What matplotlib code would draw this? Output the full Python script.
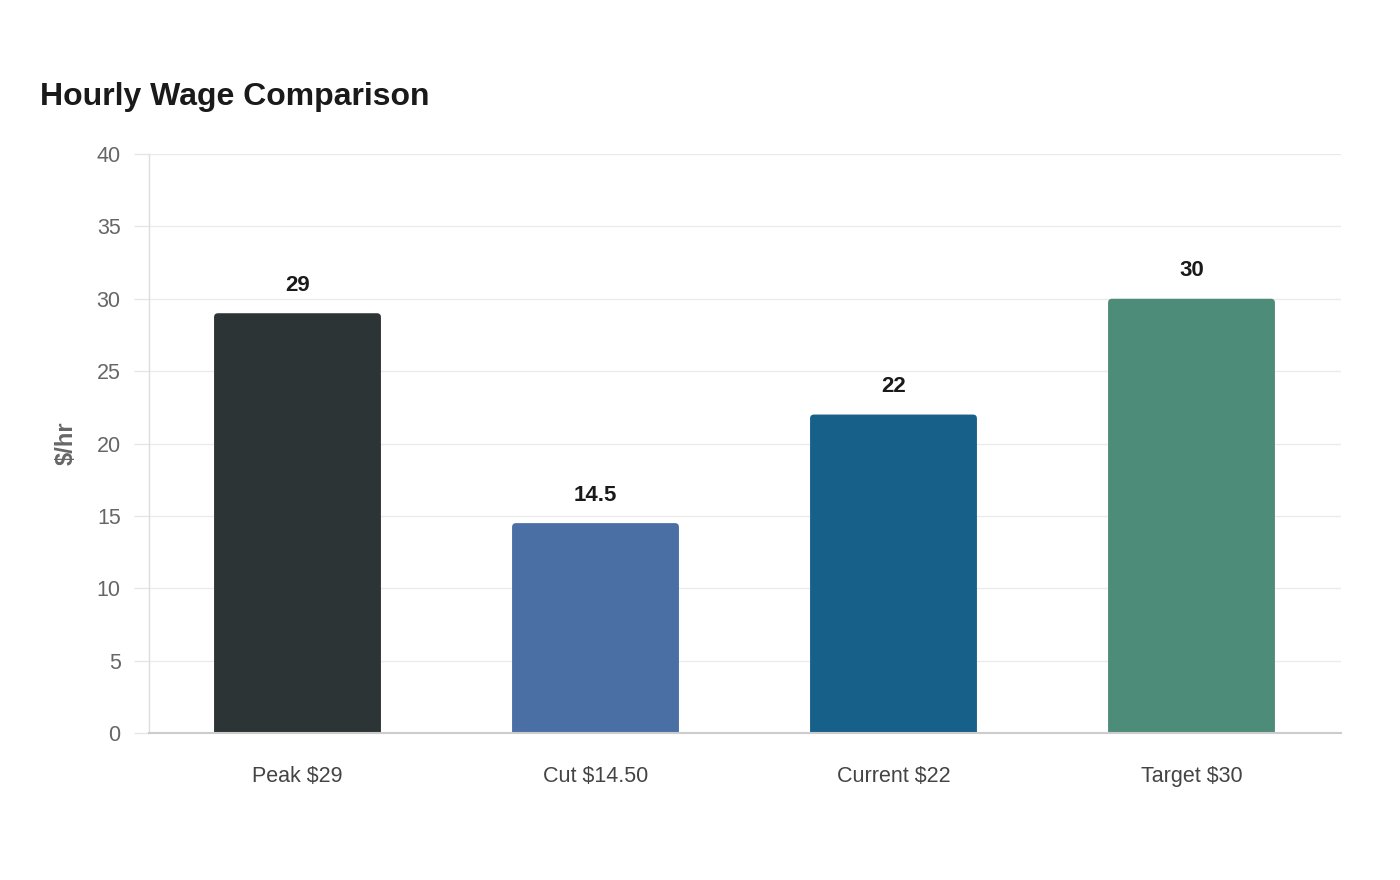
import matplotlib
matplotlib.use("Agg")
import matplotlib.pyplot as plt
from matplotlib.patches import FancyBboxPatch

categories = ["Peak $29", "Cut $14.50", "Current $22", "Target $30"]
values = [29, 14.5, 22, 30]
value_labels = ["29", "14.5", "22", "30"]
colors = ["#2d3436", "#4a6fa5", "#17608a", "#4e8c7a"]
yticks = [0, 5, 10, 15, 20, 25, 30, 35, 40]

plt.rcParams['font.family'] = ['Liberation Sans', 'DejaVu Sans']

fig = plt.figure(figsize=(14, 8.8), dpi=100)
ax = fig.add_axes([148.5/1400, 1 - 733/880, 1192/1400, 579/880])

x = list(range(len(categories)))
bars = ax.bar(x, values, width=0.56, color=colors, zorder=3)

ax.set_xlim(-0.5, 3.5)
ax.set_ylim(0, 40)

# rounded top corners
px_per_x = 1192 / 4.0
px_per_y = 579 / 40.0
r_px = 4.0
aspect = px_per_x / px_per_y
for b, c in zip(bars, colors):
    bx, by = b.get_x(), b.get_y()
    w, h = b.get_width(), b.get_height()
    b.set_visible(False)
    ext = 1.0
    p = FancyBboxPatch((bx, by - ext), w, h + ext,
                       boxstyle=f"round,pad=0,rounding_size={r_px/px_per_x}",
                       mutation_aspect=aspect, facecolor=c, edgecolor='none',
                       zorder=3, clip_on=True)
    ax.add_patch(p)

for xi, v, lab in zip(x, values, value_labels):
    ax.annotate(lab, (xi, v), xytext=(0, 12.5), textcoords='offset points',
                ha='center', va='bottom', fontsize=16, fontweight='bold',
                color='#1a1a1a')

ax.set_yticks(yticks)
ax.set_yticklabels([str(t) for t in yticks])
ax.set_xticks(x)
ax.set_xticklabels(categories)
ax.tick_params(axis='y', length=11, width=1, color='#e6e6e6', labelsize=15.5,
               labelcolor='#666666', pad=9)
ax.tick_params(axis='x', length=0, labelsize=15.5, labelcolor='#444444', pad=24)

ax.grid(axis='y', color='#ebebeb', linewidth=1, zorder=0)
ax.set_axisbelow(True)
for s in ['top', 'right']:
    ax.spines[s].set_visible(False)
ax.spines['left'].set_color('#dddddd')
ax.spines['left'].set_linewidth(1)
ax.spines['bottom'].set_color('#cccccc')
ax.spines['bottom'].set_linewidth(1.5)
ax.spines['bottom'].set_zorder(4)

ax.set_ylabel("$/hr", fontsize=17, fontweight='bold', color='#666666', labelpad=14)

fig.text(40/1400, 1 - 97/880, "Hourly Wage Comparison", fontsize=23,
         fontweight='bold', color='#1a1a1a', ha='left', va='center')

fig.savefig("out.png", dpi=100, facecolor='white')
